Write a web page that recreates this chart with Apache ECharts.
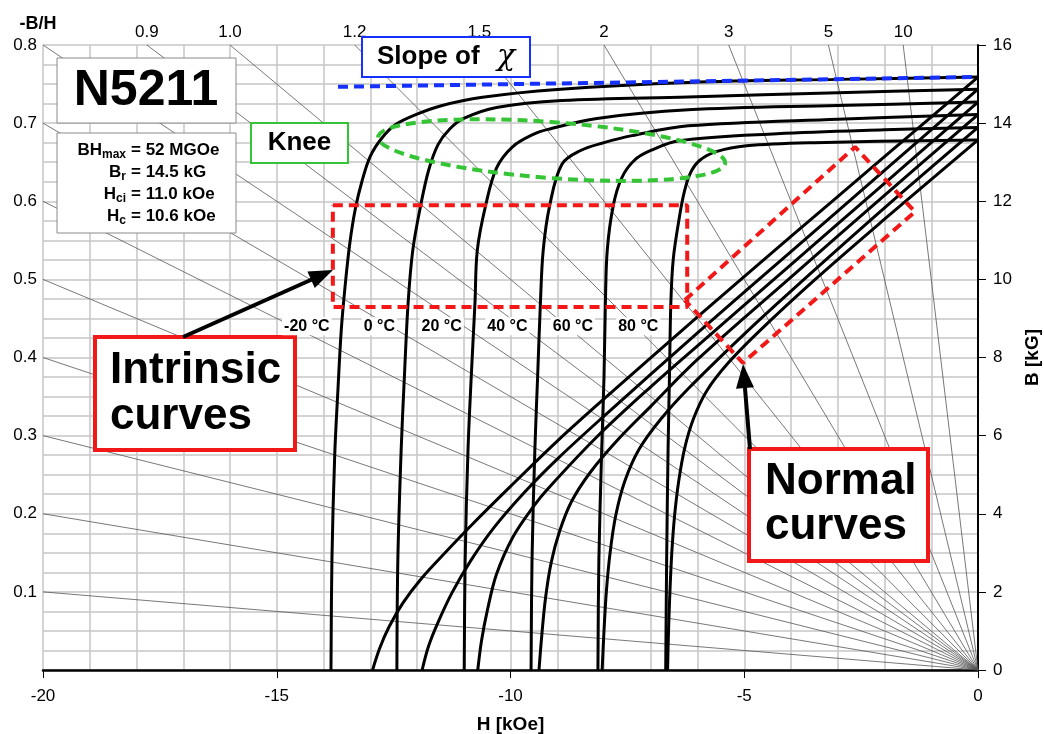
<!DOCTYPE html>
<html>
<head>
<meta charset="utf-8">
<script src="https://cdn.jsdelivr.net/npm/echarts@6/dist/echarts.min.js"></script>
<style>
  html, body { margin: 0; padding: 0; background: #fff; }
  #chart { width: 1044px; height: 734px; }
</style>
</head>
<body>
<div id="chart"></div>
<script>
// ---- Demagnetization data, grade N5211 (H in kOe, J / B in kG) ----
const temperatures = ['-20 °C', '0 °C', '20 °C', '40 °C', '60 °C', '80 °C'];

// intrinsic curves J(H)
const intrinsicM20 = [[-13.84,0],[-13.82,2.8],[-13.76,5.5],[-13.69,7.2],[-13.62,8.7],[-13.54,9.8],[-13.44,10.9],[-13.32,11.8],[-13.18,12.5],[-13.0,13.15],[-12.75,13.62],[-12.45,13.97],[-12.0,14.23],[-11.5,14.44],[-10.6,14.66],[-9.0,14.86],[-6.2,15.04],[-3.0,15.12],[0,15.18]];
const intrinsic0 = [[-12.43,0],[-12.41,2.8],[-12.34,5.6],[-12.27,7.5],[-12.19,9.4],[-12.09,10.75],[-11.92,11.9],[-11.75,12.8],[-11.55,13.45],[-11.3,13.85],[-11.0,14.12],[-10.3,14.4],[-8.9,14.58],[-6.2,14.67],[-3.0,14.78],[0,14.87]];
const intrinsic20 = [[-10.99,0],[-10.97,2.8],[-10.91,5.6],[-10.84,7.5],[-10.76,9.4],[-10.71,10.75],[-10.53,11.9],[-10.3,12.85],[-9.95,13.4],[-9.5,13.72],[-9.2,13.84],[-8.15,14.12],[-6.2,14.34],[-3.0,14.45],[0,14.54]];
const intrinsic40 = [[-9.56,0],[-9.54,2.8],[-9.48,5.6],[-9.42,7.5],[-9.36,9.4],[-9.3,10.75],[-9.16,11.9],[-8.9,12.95],[-8.5,13.3],[-8.0,13.5],[-7.4,13.68],[-6.2,13.93],[-3.0,14.1],[0,14.22]];
const intrinsic60 = [[-8.13,0],[-8.11,2.8],[-8.05,5.6],[-8.0,7.5],[-7.97,9.4],[-7.93,10.75],[-7.8,11.9],[-7.62,12.6],[-7.35,13.05],[-7.0,13.3],[-6.4,13.55],[-4.3,13.73],[-2.0,13.83],[0,13.89]];
const intrinsic80 = [[-6.68,0],[-6.66,2.8],[-6.63,5.6],[-6.6,7.5],[-6.57,9.4],[-6.52,10.5],[-6.4,11.5],[-6.28,12.25],[-6.14,12.75],[-5.95,13.05],[-5.6,13.27],[-4.95,13.42],[-3.5,13.5],[0,13.57]];

// normal curves B(H)
const normalM20 = [[-12.95,0],[-12.8,0.55],[-12.6,1.1],[-12.3,1.72],[-11.9,2.35],[-11.4,3.0],[-10.8,3.75],[-10.0,4.7],[-9.0,5.86],[-8.0,6.94],[-6.0,9.04],[-4.0,11.1],[-2.0,13.14],[0,15.18]];
const normal0 = [[-11.89,0],[-11.75,0.62],[-11.55,1.22],[-11.25,1.98],[-10.85,2.8],[-10.35,3.65],[-9.7,4.55],[-9.0,5.4],[-8.0,6.5],[-6.0,8.63],[-4.0,10.71],[-2.0,12.79],[0,14.87]];
const normal20 = [[-10.7,0],[-10.62,0.75],[-10.5,1.5],[-10.3,2.45],[-9.95,3.4],[-9.5,4.2],[-9.2,4.64],[-8.15,5.97],[-7.0,7.25],[-6.0,8.3],[-4.0,10.38],[-2.0,12.46],[0,14.54]];
const normal40 = [[-9.39,0],[-9.33,0.9],[-9.25,1.85],[-9.13,2.75],[-8.95,3.55],[-8.7,4.3],[-8.3,5.05],[-7.7,5.9],[-7.0,6.75],[-6.0,7.95],[-4.0,10.06],[-2.0,12.15],[0,14.22]];
const normal60 = [[-8.04,0],[-8.0,1.0],[-7.95,2.0],[-7.87,3.0],[-7.75,3.95],[-7.55,4.85],[-7.25,5.65],[-6.8,6.4],[-6.2,7.2],[-5.0,8.6],[-4.0,9.7],[-2.0,11.83],[0,13.89]];
const normal80 = [[-6.64,0],[-6.62,1.0],[-6.59,2.0],[-6.55,3.0],[-6.49,3.95],[-6.4,4.85],[-6.27,5.7],[-6.08,6.45],[-5.8,7.15],[-5.35,7.85],[-4.7,8.65],[-3.5,9.98],[-2.0,11.54],[0,13.57]];

// permeance (load) lines -B/H
const permeanceLeft = [0.1, 0.2, 0.3, 0.4, 0.5, 0.6, 0.7, 0.8];
const permeanceTopLabels = ['0.9', '1.0', '1.2', '1.5', '2', '3', '5', '10'];

// magnet properties
const properties = [
  ['BH', 'max', '= 52 MGOe'],
  ['B', 'r', '= 14.5 kG'],
  ['H', 'ci', '= 11.0 kOe'],
  ['H', 'c', '= 10.6 kOe']
];

// annotation outlines, in (H, B) units
const chiLine = [[-13.69, 14.93], [0, 15.18]];
const kneeZoneIntrinsic = [[-13.8, 11.9], [-6.22, 11.9], [-6.22, 9.29], [-13.8, 9.29], [-13.8, 11.9]];
const kneeZoneNormal = [[-6.27, 9.47], [-2.63, 13.39], [-1.35, 11.73], [-5.03, 7.86], [-6.27, 9.47]];
const kneeEllipseCenter = [-9.12, 13.31];

const H_MIN = -20, H_MAX = 0, B_MAX = 16;
const FONT = '"Liberation Sans", Arial, Helvetica, sans-serif';
const RED = '#f21818', GREEN = '#35c435', BLUE = '#1530ff';

const intrinsicSets = [intrinsicM20, intrinsic0, intrinsic20, intrinsic40, intrinsic60, intrinsic80];
const normalSets = [normalM20, normal0, normal20, normal40, normal60, normal80];

const chart = echarts.init(document.getElementById('chart'), null, { renderer: 'canvas' });

const series = [];

// load lines through the origin
permeanceLeft.forEach(s => {
  series.push({
    type: 'line', yAxisIndex: 1, data: [[0, 0], [H_MIN, -H_MIN * s]],
    symbol: 'none', silent: true, z: 2,
    lineStyle: { color: '#555', width: 0.8 }
  });
});
permeanceTopLabels.forEach(t => {
  const s = parseFloat(t);
  series.push({
    type: 'line', yAxisIndex: 1, data: [[0, 0], [-B_MAX / s, B_MAX]],
    symbol: 'none', silent: true, z: 2,
    lineStyle: { color: '#555', width: 0.8 }
  });
});
series.push({
  type: 'scatter', yAxisIndex: 1, symbolSize: 0, silent: true, clip: false, z: 2,
  itemStyle: { opacity: 1 },
  data: permeanceTopLabels.map(t => [-B_MAX / parseFloat(t), B_MAX]),
  label: {
    show: true, position: 'top', distance: 4,
    formatter: p => permeanceTopLabels[p.dataIndex],
    fontFamily: FONT, fontSize: 17, color: '#000'
  }
});

// demagnetization curves
intrinsicSets.concat(normalSets).forEach(d => {
  series.push({
    type: 'line', yAxisIndex: 1, data: d, symbol: 'none', smooth: 0.35,
    silent: true, z: 4, lineStyle: { color: '#000', width: 3 }
  });
});

// dashed highlight outlines
series.push({
  type: 'line', yAxisIndex: 1, data: chiLine, symbol: 'none', silent: true, z: 6,
  lineStyle: { color: BLUE, width: 4, type: [10, 6] }
});
[kneeZoneIntrinsic, kneeZoneNormal].forEach(d => {
  series.push({
    type: 'line', yAxisIndex: 1, data: d, symbol: 'none', silent: true, z: 6,
    lineStyle: { color: RED, width: 4, type: [10, 6] }
  });
});

const labelFont = { fontFamily: FONT, fontSize: 17, color: '#000' };

chart.setOption({
  animation: false,
  backgroundColor: '#fff',
  grid: { left: 43, right: 66, top: 45, bottom: 64, containLabel: false, outerBoundsMode: 'none' },
  xAxis: {
    type: 'value', min: H_MIN, max: H_MAX, interval: 5,
    name: 'H [kOe]', nameLocation: 'middle', nameGap: 45,
    nameTextStyle: { fontFamily: FONT, fontSize: 19, fontWeight: 'bold', color: '#000' },
    axisLine: { show: true, onZero: false, lineStyle: { color: '#000', width: 2.5 } },
    axisTick: { show: true, length: 8, lineStyle: { color: '#000', width: 1 } },
    axisLabel: Object.assign({ margin: 18 }, labelFont),
    splitLine: { show: true, lineStyle: { color: '#c6c6c6', width: 1.5 } },
    minorTick: { show: false, splitNumber: 5 },
    minorSplitLine: { show: true, lineStyle: { color: '#c6c6c6', width: 1.5 } }
  },
  yAxis: [
    {
      type: 'value', position: 'left', min: 0, max: 0.8, interval: 0.1,
      axisLine: { show: false }, axisTick: { show: false }, splitLine: { show: false },
      axisLabel: Object.assign({ margin: 6, formatter: v => (v === 0 ? '' : v.toFixed(1)) }, labelFont)
    },
    {
      type: 'value', position: 'right', min: 0, max: B_MAX, interval: 2,
      name: 'B [kG]', nameLocation: 'middle', nameGap: 44, nameRotate: 90,
      nameTextStyle: { fontFamily: FONT, fontSize: 19, fontWeight: 'bold', color: '#000' },
      axisLine: { show: true, lineStyle: { color: '#000', width: 2 } },
      axisTick: { show: true, length: 8, lineStyle: { color: '#000', width: 1 } },
      axisLabel: Object.assign({ margin: 15 }, labelFont),
      splitLine: { show: true, lineStyle: { color: '#c6c6c6', width: 1.5 } },
      minorTick: { show: false, splitNumber: 4 },
      minorSplitLine: { show: true, lineStyle: { color: '#c6c6c6', width: 1.5 } }
    }
  ],
  series: series
});

// ---- annotations ----
const toPx = p => chart.convertToPixel({ xAxisIndex: 0, yAxisIndex: 1 }, p);
const measure = document.createElement('canvas').getContext('2d');
const textWidth = (t, f) => { measure.font = f; return measure.measureText(t).width; };

function txt(text, x, y, font, opts) {
  return {
    type: 'text', z: 30, silent: true,
    style: Object.assign({ text, x, y, font, fill: '#000', textAlign: 'left', textVerticalAlign: 'middle' }, opts || {})
  };
}
function box(x, y, w, h, stroke, lw) {
  return { type: 'rect', z: 25, silent: true, shape: { x, y, width: w, height: h },
           style: { fill: '#fff', stroke, lineWidth: lw } };
}
function arrow(x1, y1, x2, y2) {
  const dx = x2 - x1, dy = y2 - y1, L = Math.hypot(dx, dy), ux = dx / L, uy = dy / L;
  const hl = 24, hw = 9, bx = x2 - ux * hl, by = y2 - uy * hl;
  return [
    { type: 'line', z: 26, silent: true, shape: { x1, y1, x2: bx + ux * 2, y2: by + uy * 2 },
      style: { stroke: '#000', lineWidth: 4 } },
    { type: 'polygon', z: 26, silent: true,
      shape: { points: [[x2, y2], [bx - uy * hw, by + ux * hw], [bx + uy * hw, by - ux * hw]] },
      style: { fill: '#000' } }
  ];
}

// value of H on a curve at a given B (linear lookup)
function hAt(curve, b) {
  for (let i = 1; i < curve.length; i++) {
    const [h0, b0] = curve[i - 1], [h1, b1] = curve[i];
    if ((b0 - b) * (b1 - b) <= 0) return h0 + (h1 - h0) * (b - b0) / (b1 - b0);
  }
  return curve[0][0];
}

const g = [];

// -B/H axis title
g.push(txt('-B/H', 38, 24, 'bold 18px ' + FONT, { textAlign: 'center' }));

// grade box
g.push(box(57, 58, 179, 65, '#8a8a8a', 1));
g.push(txt('N5211', 146, 91, 'bold 50px ' + FONT, { textAlign: 'center' }));

// properties box
g.push(box(57, 133, 179, 100, '#8a8a8a', 1));
const mainF = 'bold 17px ' + FONT, subF = 'bold 12px ' + FONT;
const eqX = 131;
properties.forEach((p, i) => {
  const y = 150 + i * 22;
  const subW = textWidth(p[1], subF);
  g.push(txt(p[0], eqX - 5 - subW, y, mainF, { textAlign: 'right' }));
  g.push(txt(p[1], eqX - 5 - subW, y + 5, subF, { textAlign: 'left' }));
  g.push(txt(p[2], eqX, y, mainF, { textAlign: 'left' }));
});

// knee label
g.push(box(251, 123, 97, 40, GREEN, 2));
g.push(txt('Knee', 299.5, 143, 'bold 26px ' + FONT, { textAlign: 'center' }));

// slope label
g.push(box(362, 37, 168, 40, BLUE, 2));
g.push(txt('Slope of', 377, 57, 'bold 26px ' + FONT));
g.push(txt('\u03C7', 497, 57, 'italic 30px "DejaVu Serif", "Liberation Serif", serif'));

// knee ellipse
const ec = toPx(kneeEllipseCenter);
g.push({ type: 'ellipse', z: 20, silent: true, x: ec[0], y: ec[1], rotation: -0.075,
         shape: { cx: 0, cy: 0, rx: 174, ry: 28 },
         style: { fill: null, stroke: GREEN, lineWidth: 4, lineDash: [10, 6] } });

// temperature labels next to the intrinsic curves
const labelB = 8.8;
intrinsicSets.forEach((c, i) => {
  const p = toPx([hAt(c, labelB), labelB]);
  g.push(txt(temperatures[i], p[0] - 10, p[1], 'bold 16px ' + FONT,
    { textAlign: 'right', backgroundColor: '#fff', padding: [1, 2] }));
});

// callout boxes with arrows
g.push(...arrow(183, 337, 333, 270));
g.push(box(95, 337, 200, 113, RED, 4));
g.push(txt('Intrinsic', 110, 371, 'bold 44px ' + FONT));
g.push(txt('curves', 110, 417, 'bold 44px ' + FONT));

g.push(...arrow(750, 449, 743, 364));
g.push(box(749, 449, 179, 112, RED, 4));
g.push(txt('Normal', 765, 482, 'bold 44px ' + FONT));
g.push(txt('curves', 765, 527, 'bold 44px ' + FONT));

chart.setOption({ graphic: { elements: g } });
</script>
</body>
</html>
